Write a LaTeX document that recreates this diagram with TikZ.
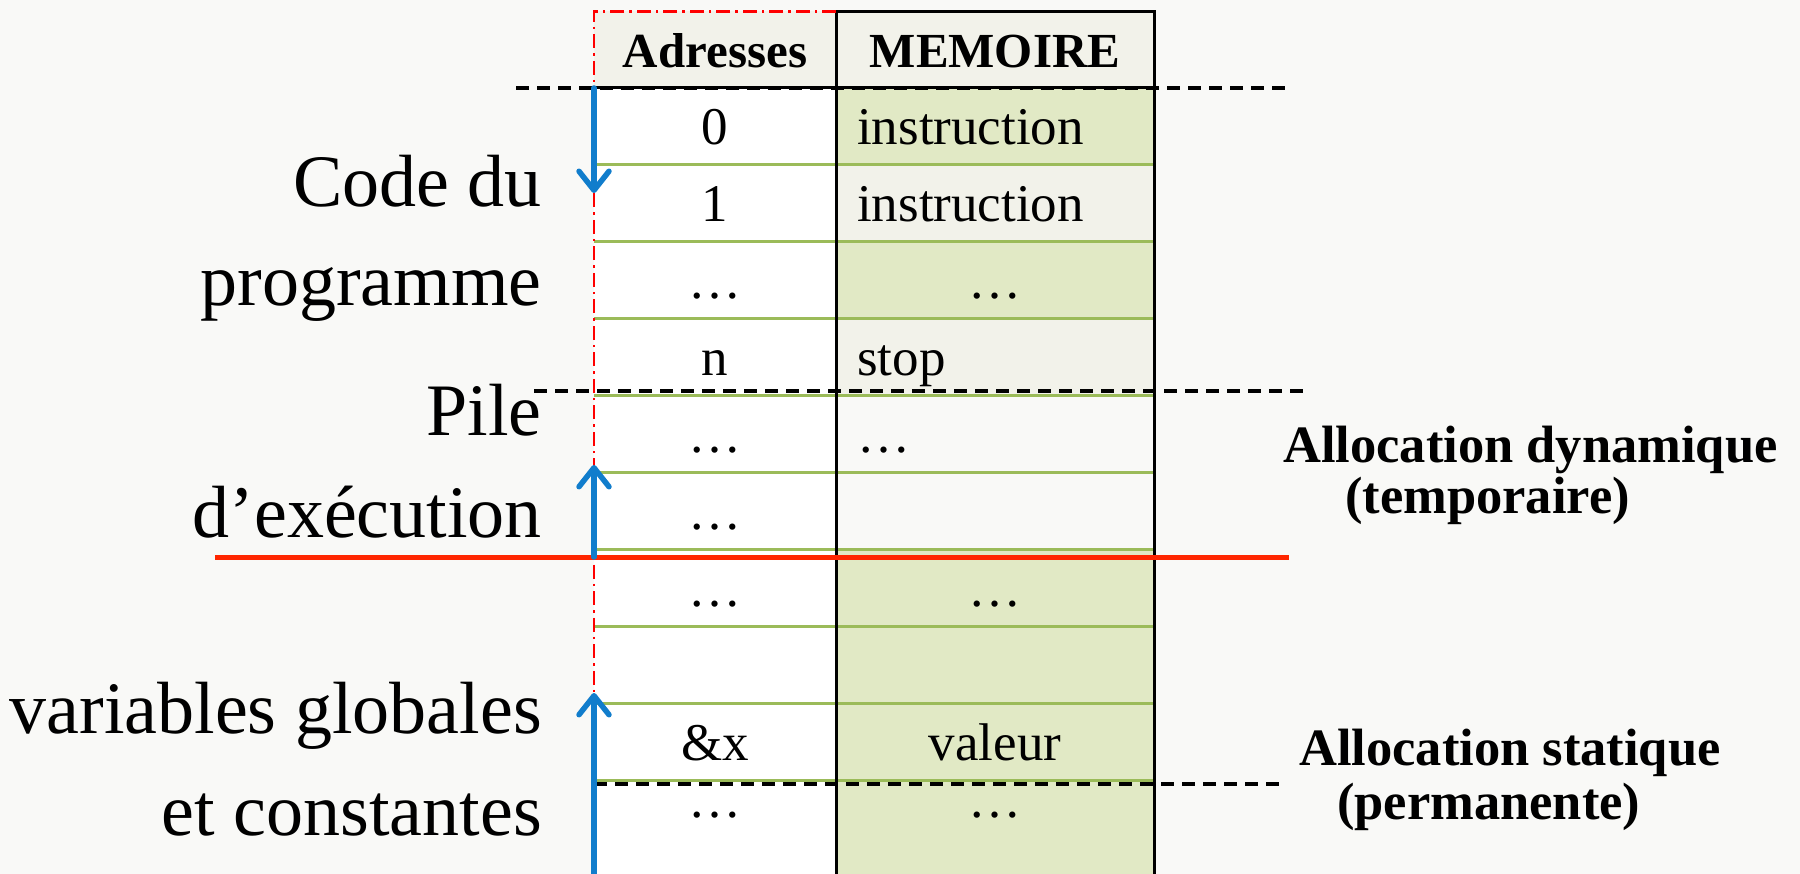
\documentclass[tikz,border=0pt]{standalone}
\usepackage{fontspec}
\setmainfont{Liberation Serif}
\usetikzlibrary{arrows.meta}

\definecolor{cellgreen}{RGB}{225,233,197}
\definecolor{cellgrey}{RGB}{242,242,234}
\definecolor{rowline}{RGB}{155,187,89}
\definecolor{stackblue}{RGB}{17,125,204}
\definecolor{limitred}{RGB}{255,38,0}
\definecolor{pagebg}{RGB}{249,249,247}

\tikzset{
  lbl/.style={anchor=base east, inner sep=0pt, font=\fontsize{74}{90}\selectfont},
  alloc/.style={anchor=base west, inner sep=0pt, font=\fontsize{52.5}{62}\selectfont\bfseries},
  cell/.style={anchor=base, inner sep=0pt, font=\fontsize{53}{62}\selectfont},
  cellL/.style={cell, anchor=base west},
  hdr/.style={anchor=base, inner sep=0pt, font=\fontsize{49}{58}\selectfont\bfseries},
  zonesep/.style={black, line width=3.6pt, dash pattern=on 13pt off 8pt},
  growarrow/.style={stackblue, line width=5.5pt, line cap=round, -{Straight Barb[round, length=19pt, width=30pt]}},
}

\begin{document}
\begin{tikzpicture}[x=1pt, y=-1pt]
            \fill[pagebg] (0,0) rectangle (1800,874);
            \useasboundingbox (0,0) rectangle (1800,874);

            % table cells
            \fill[cellgrey] (594,11.5) rectangle (1154,87.5);
            \fill[white] (594,87.5) rectangle (836,874);
            \fill[cellgreen] (836,87.5) rectangle (1154,164.5);
            \fill[cellgrey] (836,164.5) rectangle (1154,241.5);
            \fill[cellgreen] (836,241.5) rectangle (1154,318.5);
            \fill[cellgrey] (836,318.5) rectangle (1154,395.5);
            \fill[cellgreen] (836,549.5) rectangle (1154,874);

            \foreach \k in {1,...,9}
              \draw[rowline, line width=3.5pt] (594,87.5+77*\k) -- (1154,87.5+77*\k);

            \draw[line width=3pt] (836,11.5) -- (1154,11.5) -- (1154,874);
            \draw[line width=3pt] (836,11.5) -- (836,874);
            \draw[line width=3pt] (594,87.5) -- (1154,87.5);
            \draw[red, line width=2.5pt, dash pattern=on 14pt off 5pt on 2.5pt off 5pt] (836,11.5) -- (594,11.5) -- (594,874);

            % zone limits
            \draw[zonesep] (516,88) -- (1289,88);
            \draw[zonesep] (534,391) -- (1303,391);
            \draw[zonesep] (594,784) -- (1280,784);
            \draw[limitred, line width=5pt] (215,557) -- (1289,557);

            % growth arrows
            \draw[growarrow] (594,88) -- (594,193);
            \draw[growarrow] (594,557) -- (594,465);
            \draw[growarrow] (594,874) -- (594,693);

            % header
            \node[hdr] (hAdr) at (715,68) {Adresses};
            \node[hdr] (hMem) at (995,68) {MEMOIRE};

            % addresses
            \node[cell] (a0) at (715,144.5) {0};
            \node[cell] (a1) at (715,221.5) {1};
            \node[cell] (a2) at (715,298.5) {…};
            \node[cell] (an) at (715,375.5) {n};
            \node[cell] (a5) at (715,452.5) {…};
            \node[cell] (a6) at (715,529.5) {…};
            \node[cell] (a7) at (715,606.5) {…};
            \node[cell] (ax) at (715,760.5) {\&x};
            \node[cell] (a10) at (715,817) {…};

            % memory
            \node[cellL] (m0) at (857,144.5) {instruction};
            \node[cellL] (m1) at (857,221.5) {instruction};
            \node[cell] (m2) at (995,298.5) {…};
            \node[cellL] (mn) at (857,375.5) {stop};
            \node[cellL] (m5) at (857,452.5) {…};
            \node[cell] (m7) at (995,606.5) {…};
            \node[cell] (mx) at (995,760.5) {valeur};
            \node[cell] (m10) at (995,817) {…};

            % zones
            \node[lbl] (code1) at (542,207) {Code du};
            \node[lbl] (code2) at (542,306) {programme};
            \node[lbl] (pile1) at (542,436) {Pile};
            \node[lbl] (pile2) at (542,537) {d’exécution};
            \node[lbl] (glob1) at (542,733) {variables globales};
            \node[lbl] (glob2) at (542,835) {et constantes};

            \node[alloc] (dyn1) at (1283,463) {Allocation dynamique};
            \node[alloc] (dyn2) at (1345,513) {(temporaire)};
            \node[alloc] (sta1) at (1299,765) {Allocation statique};
            \node[alloc] (sta2) at (1337,819) {(permanente)};
\end{tikzpicture}
\end{document}
